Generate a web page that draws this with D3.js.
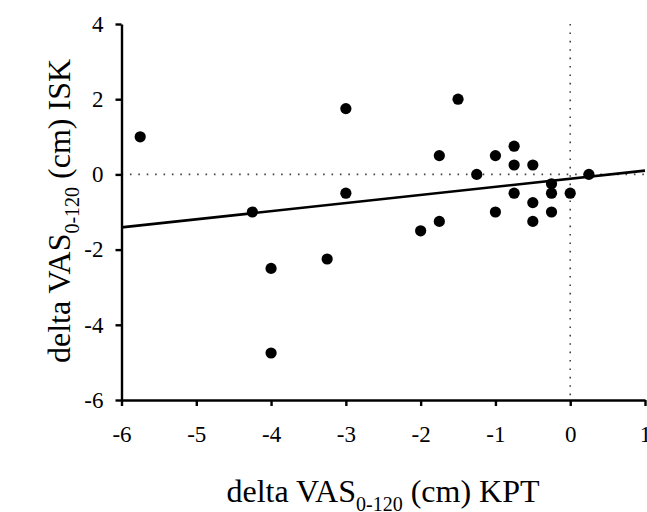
<!DOCTYPE html>
<html>
<head>
<meta charset="utf-8">
<script src="https://cdn.jsdelivr.net/npm/d3@7"></script>
<style>
  body { margin: 0; background: #fff; }
  svg { display: block; }
  svg text { font-family: "Liberation Serif", "Times New Roman", serif; }
</style>
</head>
<body>
<div class="chart"></div>
<script>
// KPT change (x) vs ISK change (y), cm
var kpt = [-5.75, -3, -3, -4.25, -4, -3.25, -4, -1.5, -1.75, -1, -0.75, -0.75, -0.5,
           -1.25, 0.25, -0.25, -0.75, -0.25, 0, -0.5, -1, -0.25, -1.75, -0.5, -2];
var isk = [1, 1.75, -0.5, -1, -2.5, -2.25, -4.75, 2, 0.5, 0.5, 0.75, 0.25, 0.25,
           0, 0, -0.25, -0.5, -0.5, -0.5, -0.75, -1, -1, -1.25, -1.25, -1.5];
var fitX = [-6, 1];
var fitY = [-1.41, 0.1];
var xTicks = [-6, -5, -4, -3, -2, -1, 0, 1];
var yTicks = [-6, -4, -2, 0, 2, 4];

var width = 647, height = 512;

var svg = d3.select(".chart").append("svg")
    .attr("width", width)
    .attr("height", height);

var x = d3.scaleLinear().domain([-6, 1]).range([121.5, 645]);
var y = d3.scaleLinear().domain([-6, 4]).range([400, 24]);

// dotted reference lines at zero
svg.append("line")
    .attr("x1", x(-6)).attr("x2", x(1))
    .attr("y1", y(0)).attr("y2", y(0))
    .attr("stroke", "#444").attr("stroke-width", 1.6)
    .attr("stroke-dasharray", "1.6,6.8");
svg.append("line")
    .attr("x1", x(0)).attr("x2", x(0))
    .attr("y1", y(4)).attr("y2", y(-6))
    .attr("stroke", "#444").attr("stroke-width", 1.6)
    .attr("stroke-dasharray", "1.6,6.8");

var fmt = function(d) { return String(d); };
var xAxis = d3.axisBottom(x).tickValues(xTicks).tickFormat(fmt)
    .tickSize(6).tickSizeOuter(0).tickPadding(20);
var yAxis = d3.axisLeft(y).tickValues(yTicks).tickFormat(fmt)
    .tickSize(6).tickSizeOuter(0).tickPadding(12);

var gx = svg.append("g")
    .attr("transform", "translate(0," + y(-6) + ")")
    .call(xAxis);
var gy = svg.append("g")
    .attr("transform", "translate(" + x(-6) + ",0)")
    .call(yAxis);

[gx, gy].forEach(function(g) {
  g.attr("font-family", null).attr("font-size", null);
  g.selectAll("path, line").attr("stroke", "#000").attr("stroke-width", 2.4);
  g.selectAll("text")
    .attr("fill", "#000")
    .style("font-family", "'Liberation Serif', serif")
    .style("font-size", "23px");
});

// regression line
svg.append("line")
    .attr("x1", x(fitX[0])).attr("y1", y(fitY[0]))
    .attr("x2", x(fitX[1])).attr("y2", y(fitY[1]))
    .attr("stroke", "#000").attr("stroke-width", 2.6);

svg.selectAll("circle.pt")
    .data(kpt)
    .enter()
    .append("circle")
      .attr("class", "pt")
      .attr("cx", function(d) { return x(d); })
      .attr("cy", function(d, i) { return y(isk[i]); })
      .attr("r", 5.6)
      .attr("fill", "#000");

// axis titles
var xt = svg.append("text")
    .attr("x", 383).attr("y", 502)
    .attr("text-anchor", "middle")
    .style("font-size", "32px");
xt.append("tspan").text("delta VAS");
xt.append("tspan").attr("dy", 9).style("font-size", "20px").text("0-120");
xt.append("tspan").attr("dy", -9).text(" (cm) KPT");

var yt = svg.append("text")
    .attr("transform", "translate(70,211) rotate(-90)")
    .attr("text-anchor", "middle")
    .style("font-size", "32px");
yt.append("tspan").text("delta VAS");
yt.append("tspan").attr("dy", 9).style("font-size", "20px").text("0-120");
yt.append("tspan").attr("dy", -9).text(" (cm) ISK");
</script>
</body>
</html>
